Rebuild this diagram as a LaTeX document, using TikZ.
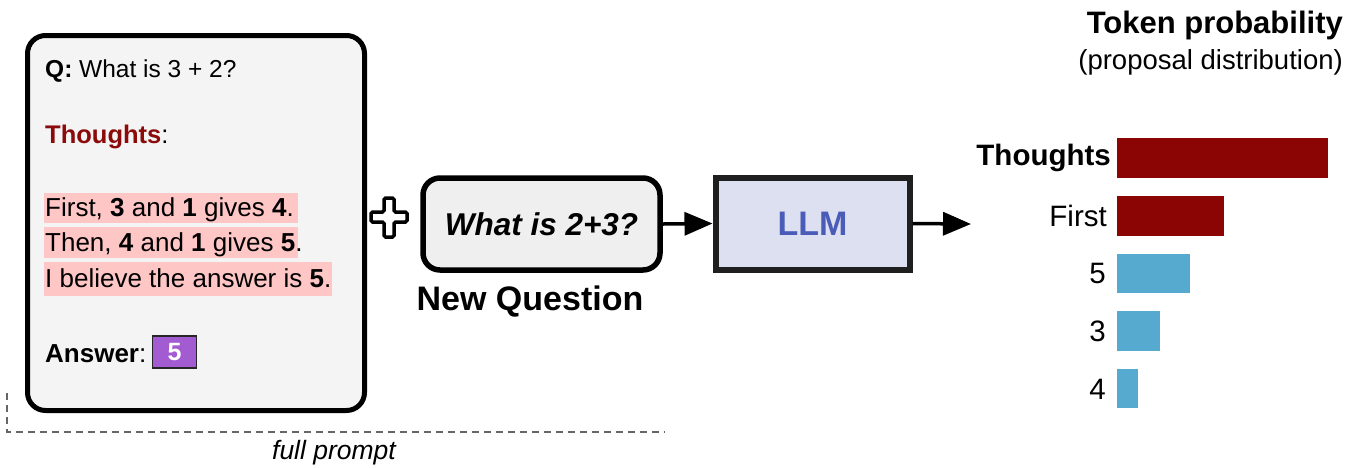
\documentclass[tikz,border=0pt]{standalone}
\usepackage{fontspec}
\setmainfont{Liberation Sans}
\usetikzlibrary{arrows.meta,positioning}
\definecolor{boxgray}{HTML}{F4F4F4}
\definecolor{qgray}{HTML}{EFEFEF}
\definecolor{thoughtred}{HTML}{8B0A0A}
\definecolor{hlpink}{HTML}{FFC6C6}
\definecolor{ansviolet}{HTML}{A35BD1}
\definecolor{llmfill}{HTML}{DDE0F1}
\definecolor{llmtext}{HTML}{4A5CB8}
\definecolor{barred}{HTML}{8B0505}
\definecolor{barblue}{HTML}{56A9CF}
\definecolor{dashgray}{HTML}{666666}
\tikzset{
  panel/.style={draw=black, line width=5pt, rounded corners=18pt},
  txt/.style={inner sep=0pt, anchor=base west, font=\fontsize{26}{30}\selectfont},
  lbl/.style={inner sep=0pt, anchor=east, font=\fontsize{29.5}{33}\selectfont},
  flow/.style={line width=3.5pt, -{Triangle[length=28pt,width=23pt]}},
}
\begin{document}
\begin{tikzpicture}[x=1pt,y=-1pt]
\useasboundingbox (0,0) rectangle (1348,467);
\fill[white] (0,0) rectangle (1348,467);

% prompt panel
\node[panel, fill=boxgray, minimum width=337pt, minimum height=375pt, anchor=north west] (prompt) at (25,33) {};
\node[txt, font=\fontsize{24.5}{28}\selectfont] (q) at (45,77) {\textbf{Q:} What is 3 + 2?};
\node[txt, font=\fontsize{25.5}{28}\selectfont] (th) at (45,143) {\textcolor{thoughtred}{\textbf{Thoughts}}:};
\fill[hlpink] (44,193) rectangle (298,223);
\fill[hlpink] (44,227) rectangle (298,258);
\fill[hlpink] (44,262) rectangle (332,296);
\node[txt] (l1) at (45,216) {First, \textbf{3} and \textbf{1} gives \textbf{4}.};
\node[txt] (l2) at (45,251) {Then, \textbf{4} and \textbf{1} gives \textbf{5}.};
\node[txt] (l3) at (45,287) {I believe the answer is \textbf{5}.};
\node[txt] (ans) at (45,362) {\textbf{Answer}:};
\node[draw=black!85, line width=1.5pt, fill=ansviolet, text=white, font=\fontsize{25}{28}\selectfont\bfseries, minimum width=44pt, minimum height=32pt, inner sep=0pt] (ansbox) at (174.5,352) {5};

% full prompt bracket
\coordinate (dtop) at (7,393);
\coordinate (dcorner) at (7,432);
\coordinate (dend) at (665,432);
\draw[dashgray, line width=2.5pt, dash pattern=on 7pt off 5pt] (dtop) -- (dcorner) -- (dend);
\node[font=\fontsize{26.5}{30}\selectfont\itshape, inner sep=0pt] (fp) at (334,453) {full prompt};

% plus sign
\draw[black, line width=3.5pt, rounded corners=1.5pt]
  (384,198) -- (394,198) -- (394,212) -- (407,212) -- (407,222) -- (394,222)
  -- (394,237) -- (384,237) -- (384,222) -- (371,222) -- (371,212) -- (384,212) -- cycle;

% new question box
\node[panel, fill=qgray, line width=5.5pt, rounded corners=17pt, minimum width=237pt, minimum height=92pt] (nq) at (541.5,224) {};
\node[font=\fontsize{31.5}{35}\selectfont\bfseries\itshape, inner sep=0pt] (nqt) at (541.5,224) {What is 2+3?};
\node[font=\fontsize{34}{38}\selectfont\bfseries, inner sep=0pt] (nql) at (530,302) {New Question};

% LLM box
\node[draw=black!88, line width=6pt, fill=llmfill, minimum width=194pt, minimum height=92pt, text=llmtext, font=\fontsize{34}{38}\selectfont\bfseries] (llm) at (812.5,223.5) {LLM};

\coordinate (out) at (971,224);
\draw[flow] (nq.east) -- (llm.west);
\draw[flow] (llm.east) -- (out);

% token probability chart
\node[inner sep=0pt, anchor=east, font=\fontsize{31}{35}\selectfont\bfseries] (title) at (1343,25) {Token probability};
\node[inner sep=0pt, anchor=east, font=\fontsize{27.5}{31}\selectfont] (sub) at (1343,62) {(proposal distribution)};

\fill[barred] (1117,138) rectangle (1328,178);
\fill[barred] (1117,196) rectangle (1224,236);
\fill[barblue] (1117,254) rectangle (1190,293);
\fill[barblue] (1117,311) rectangle (1160,351);
\fill[barblue] (1117,369) rectangle (1138,408);
\node[lbl, font=\fontsize{29.5}{33}\selectfont\bfseries] (b1) at (1111,158) {Thoughts};
\node[lbl] (b2) at (1107,216) {First};
\node[lbl] (b3) at (1106,273) {5};
\node[lbl] (b4) at (1106,331) {3};
\node[lbl] (b5) at (1106,389) {4};
\end{tikzpicture}
\end{document}
